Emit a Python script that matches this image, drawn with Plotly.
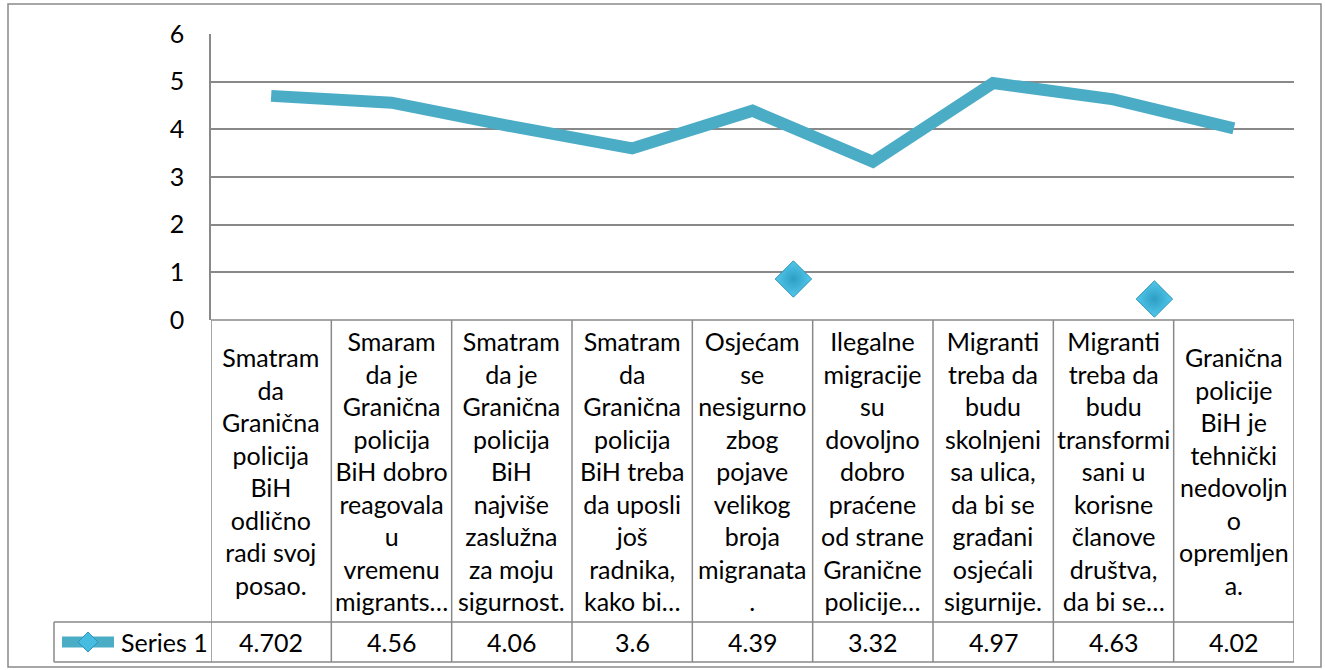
import plotly.graph_objects as go

categories = [
    "Smatram<br>da<br>Granična<br>policija<br>BiH<br>odlično<br>radi svoj<br>posao.",
    "Smaram<br>da je<br>Granična<br>policija<br>BiH dobro<br>reagovala<br>u<br>vremenu<br>migrants…",
    "Smatram<br>da je<br>Granična<br>policija<br>BiH<br>najviše<br>zaslužna<br>za moju<br>sigurnost.",
    "Smatram<br>da<br>Granična<br>policija<br>BiH treba<br>da uposli<br>još<br>radnika,<br>kako bi…",
    "Osjećam<br>se<br>nesigurno<br>zbog<br>pojave<br>velikog<br>broja<br>migranata<br>.",
    "Ilegalne<br>migracije<br>su<br>dovoljno<br>dobro<br>praćene<br>od strane<br>Granične<br>policije…",
    "Migranti<br>treba da<br>budu<br>skolnjeni<br>sa ulica,<br>da bi se<br>građani<br>osjećali<br>sigurnije.",
    "Migranti<br>treba da<br>budu<br>transformi<br>sani u<br>korisne<br>članove<br>društva,<br>da bi se…",
    "Granična<br>policije<br>BiH je<br>tehnički<br>nedovoljn<br>o<br>opremljen<br>a.",
]
values = [4.702, 4.56, 4.06, 3.6, 4.39, 3.32, 4.97, 4.63, 4.02]
series_name = "Series 1"
y_ticks = [0, 1, 2, 3, 4, 5, 6]
# stray marker glyphs visible in the original rendering
stray_x = [4.34, 7.34]
stray_y = [0.86, 0.44]

W, H = 1325, 670
PL, PR, PT, PB = 211, 1294, 34, 320  # plot area in pixels
pw, ph = PR - PL, PB - PT

def px_x(px):
    return (px - PL) / pw

def px_y(py):
    return (PB - py) / ph

LINE_COL = "#4BACC6"
GRID_COL = "#898989"
FONT = "Lato"
FS = 25

n = len(values)
xs = list(range(n))

fig = go.Figure()
fig.add_trace(go.Scatter(
    x=xs, y=values, mode="lines", name=series_name,
    line=dict(color=LINE_COL, width=12, shape="linear"),
    showlegend=False,
))
fig.add_trace(go.Scatter(
    x=stray_x, y=stray_y, mode="markers", showlegend=False,
    marker=dict(symbol="diamond", size=28, color="#52C8EC",
                line=dict(color="#2B94B8", width=1),
                gradient=dict(type="radial", color="#2E9DC4")),
    cliponaxis=False,
))

shapes = []
y_hdr = px_y(622)
y_val = px_y(662)
# outer border
shapes.append(dict(type="rect", xref="paper", yref="paper",
                   x0=px_x(8), x1=px_x(1321), y0=px_y(667), y1=px_y(4),
                   line=dict(color=GRID_COL, width=1.5), layer="below"))
# table horizontal lines
for yy in [0, y_hdr]:
    shapes.append(dict(type="line", xref="paper", yref="paper",
                       x0=0, x1=1, y0=yy, y1=yy,
                       line=dict(color=GRID_COL, width=1.5)))
shapes.append(dict(type="line", xref="paper", yref="paper",
                   x0=px_x(54), x1=1, y0=y_val, y1=y_val,
                   line=dict(color=GRID_COL, width=1.5)))
shapes.append(dict(type="line", xref="paper", yref="paper",
                   x0=px_x(54), x1=0, y0=y_hdr, y1=y_hdr,
                   line=dict(color=GRID_COL, width=1.5)))
shapes.append(dict(type="line", xref="paper", yref="paper",
                   x0=px_x(54), x1=px_x(54), y0=y_hdr, y1=y_val,
                   line=dict(color=GRID_COL, width=1.5)))
# table vertical lines
for i in range(n + 1):
    shapes.append(dict(type="line", xref="x", yref="paper",
                       x0=i - 0.5, x1=i - 0.5, y0=0, y1=y_val,
                       line=dict(color=GRID_COL, width=1.5)))
# legend key glyph
ly = px_y(642)
shapes.append(dict(type="line", xref="paper", yref="paper",
                   x0=px_x(62), x1=px_x(114), y0=ly, y1=ly,
                   line=dict(color=LINE_COL, width=11)))
cx, cy, r = 88, 642, 10
shapes.append(dict(type="path", xref="paper", yref="paper",
                   path=f"M {px_x(cx - r)} {px_y(cy)} L {px_x(cx)} {px_y(cy - r)} "
                        f"L {px_x(cx + r)} {px_y(cy)} L {px_x(cx)} {px_y(cy + r)} Z",
                   fillcolor="#45BCE0", line=dict(color="#2B94B8", width=1)))

annotations = []
for i, (c, v) in enumerate(zip(categories, values)):
    annotations.append(dict(x=i, xref="x", y=px_y(471), yref="paper",
                            text=c, showarrow=False, xanchor="center", yanchor="middle",
                            font=dict(family=FONT, size=FS, color="black")))
    annotations.append(dict(x=i, xref="x", y=ly, yref="paper",
                            text=str(v), showarrow=False, xanchor="center", yanchor="middle",
                            font=dict(family=FONT, size=FS, color="black")))
annotations.append(dict(x=px_x(119), xref="paper", y=ly, yref="paper",
                        text=series_name, showarrow=False, xanchor="left", yanchor="middle",
                        font=dict(family=FONT, size=FS, color="black")))

fig.update_layout(
    width=W, height=H,
    margin=dict(l=PL, r=W - PR, t=PT, b=H - PB),
    paper_bgcolor="white", plot_bgcolor="white",
    showlegend=False,
    xaxis=dict(range=[-0.5, n - 0.5], showticklabels=False, showgrid=False,
               zeroline=False, showline=False, fixedrange=True),
    yaxis=dict(range=[0, 6], tickvals=y_ticks, showgrid=True, gridcolor=GRID_COL,
               gridwidth=1.5, zeroline=False, showline=True, linecolor=GRID_COL,
               linewidth=1.5, ticks="", ticklabelstandoff=20,
               tickfont=dict(family=FONT, size=FS, color="black")),
    shapes=shapes,
    annotations=annotations,
    font=dict(family=FONT),
)

fig.write_html("out.html", config={"displayModeBar": False},
               post_script="document.body.style.margin='0px';")
